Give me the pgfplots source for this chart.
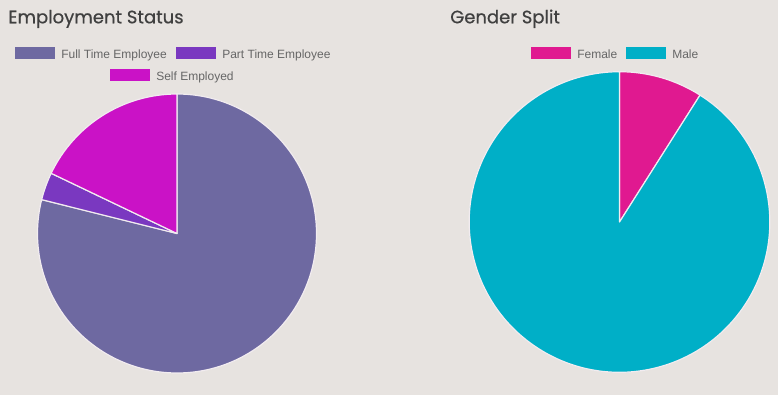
\documentclass[border=0pt]{standalone}
\usepackage{fontspec}
\setmainfont{Liberation Sans}
\newfontfamily\titlefont{Poppins}[FakeBold=0.6]
\usepackage{pgfplots}
\usepackage{pgfplotstable}
\pgfplotsset{compat=1.18}
\definecolor{bg}{HTML}{E7E3E0}
\definecolor{fullc}{HTML}{6E69A1}
\definecolor{partc}{HTML}{7A38C0}
\definecolor{selfc}{HTML}{CA12C6}
\definecolor{femc}{HTML}{E01990}
\definecolor{malec}{HTML}{00AFC7}
\definecolor{sepc}{HTML}{F2ECF0}
\definecolor{titc}{HTML}{404040}
\definecolor{legc}{HTML}{666666}

\pgfplotstableread{
label value
Full 78.9
Part 3.2
Self 17.9
}\employ
\pgfplotstableread{
label value
Female 9.0
Male 91.0
}\gender

\pgfplotstablegetelem{0}{value}\of\employ \let\eA\pgfplotsretval
\pgfplotstablegetelem{1}{value}\of\employ \let\eB\pgfplotsretval
\pgfplotstablegetelem{2}{value}\of\employ \let\eC\pgfplotsretval
\pgfplotstablegetelem{0}{value}\of\gender \let\gA\pgfplotsretval
\pgfplotstablegetelem{1}{value}\of\gender \let\gB\pgfplotsretval

\pgfmathsetmacro\eTot{\eA+\eB+\eC}
\pgfmathsetmacro\eAs{90}
\pgfmathsetmacro\eAe{90-\eA/\eTot*360}
\pgfmathsetmacro\eBe{\eAe-\eB/\eTot*360}
\pgfmathsetmacro\eCe{\eBe-\eC/\eTot*360}
\pgfmathsetmacro\gTot{\gA+\gB}
\pgfmathsetmacro\gAe{90-\gA/\gTot*360}
\pgfmathsetmacro\gBe{\gAe-\gB/\gTot*360}

\pgfplotsset{pieaxis/.style={
  scale only axis, hide axis, anchor=center,
  xmin=-1, xmax=1, ymin=-1, ymax=1,
  clip=false}}

\begin{document}
\begin{tikzpicture}
\fill[bg] (0pt,0pt) rectangle (583.5pt,-296.25pt);
\useasboundingbox (0pt,0pt) rectangle (583.5pt,-296.25pt);

\begin{axis}[pieaxis, at={(132.75pt,-175.125pt)}, width=209.25pt, height=209.25pt]
\addplot[draw=none] coordinates {(0,0)};
\fill[fullc, draw=sepc, line width=0.9pt, line join=round] (axis cs:0,0) -- (axis cs:{cos(\eAs)},{sin(\eAs)}) arc[start angle=\eAs, end angle=\eAe, radius=1] -- cycle;
\fill[partc, draw=sepc, line width=0.9pt, line join=round] (axis cs:0,0) -- (axis cs:{cos(\eAe)},{sin(\eAe)}) arc[start angle=\eAe, end angle=\eBe, radius=1] -- cycle;
\fill[selfc, draw=sepc, line width=0.9pt, line join=round] (axis cs:0,0) -- (axis cs:{cos(\eBe)},{sin(\eBe)}) arc[start angle=\eBe, end angle=\eCe, radius=1] -- cycle;
\end{axis}

\begin{axis}[pieaxis, at={(464.625pt,-166.5pt)}, width=225.45pt, height=225.45pt]
\addplot[draw=none] coordinates {(0,0)};
\fill[femc, draw=sepc, line width=0.9pt, line join=round] (axis cs:0,0) -- (axis cs:{cos(\eAs)},{sin(\eAs)}) arc[start angle=\eAs, end angle=\gAe, radius=1] -- cycle;
\fill[malec, draw=sepc, line width=0.9pt, line join=round] (axis cs:0,0) -- (axis cs:{cos(\gAe)},{sin(\gAe)}) arc[start angle=\gAe, end angle=\gBe, radius=1] -- cycle;
\end{axis}

\begin{scope}[x=0.75pt, y=-0.75pt]
\node[anchor=base west, inner sep=0pt, text=titc, font=\titlefont\fontsize{13.5pt}{15pt}\selectfont] at (8,23.3) {Employment Status};
\node[anchor=base west, inner sep=0pt, text=titc, font=\titlefont\fontsize{13.5pt}{15pt}\selectfont] at (450,23.3) {Gender Split};

\fill[fullc] (15,47) rectangle (55,59);
\node[anchor=base west, inner sep=0pt, text=legc, font=\fontsize{9pt}{11pt}\selectfont] at (61,58.3) {Full Time Employee};
\fill[partc] (176,47) rectangle (216,59);
\node[anchor=base west, inner sep=0pt, text=legc, font=\fontsize{9pt}{11pt}\selectfont] at (222,58.3) {Part Time Employee};
\fill[selfc] (110,69) rectangle (150,81);
\node[anchor=base west, inner sep=0pt, text=legc, font=\fontsize{9pt}{11pt}\selectfont] at (156,80.3) {Self Employed};

\fill[femc] (531,47) rectangle (571,59);
\node[anchor=base west, inner sep=0pt, text=legc, font=\fontsize{9pt}{11pt}\selectfont] at (577,58.3) {Female};
\fill[malec] (626,47) rectangle (666,59);
\node[anchor=base west, inner sep=0pt, text=legc, font=\fontsize{9pt}{11pt}\selectfont] at (672,58.3) {Male};
\end{scope}
\end{tikzpicture}
\end{document}
